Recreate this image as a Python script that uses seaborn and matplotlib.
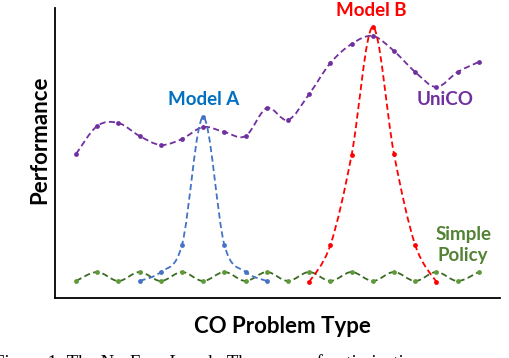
import numpy as np
import pandas as pd
import matplotlib
matplotlib.use("Agg")
import matplotlib.pyplot as plt
from matplotlib.path import Path
from matplotlib.patches import PathPatch
import seaborn as sns

# ---- data (problem-type index vs. performance) ----
problem_idx = list(range(20))
unico_perf = [144, 172, 175, 162, 153, 159, 171, 166, 162, 190,
              178, 204, 235, 254, 262, 247, 226, 211, 226, 236]
simple_perf = [17, 26, 17, 26, 17, 26, 17, 26, 17, 26,
               17, 26, 17, 26, 17, 26, 17, 26, 17, 26]
model_a_idx = [3, 4, 5, 6, 7, 8, 9]
model_a_perf = [17, 26, 53, 181, 53, 26, 17]
model_b_idx = [11, 12, 13, 14, 15, 16, 17]
model_b_perf = [16, 53, 143, 271, 144, 53, 16]

sns.set_theme(style="white")
plt.rcParams['font.family'] = ['Lato', 'DejaVu Sans']

fig = plt.figure(figsize=(5.10, 3.58), dpi=100)
ax = fig.add_axes([55/510, 60/358, 445/510, 290/358])
ax.set_xlim(-0.99, 20.0)
ax.set_ylim(0, 290)


def smooth_path(xs, ys):
    """Excel-style smoothed line as cubic Bezier segments through the points."""
    pts = np.column_stack([xs, ys]).astype(float)
    n = len(pts)
    verts = [pts[0]]
    codes = [Path.MOVETO]
    for i in range(n - 1):
        p0 = pts[i - 1] if i > 0 else pts[i]
        p1 = pts[i]
        p2 = pts[i + 1]
        p3 = pts[i + 2] if i + 2 < n else pts[i + 1]
        c1 = p1 + (p2 - p0) / 6.0
        c2 = p2 - (p3 - p1) / 6.0
        verts += [c1, c2, p2]
        codes += [Path.CURVE4] * 3
    return Path(np.array(verts), codes)


series = [
    (problem_idx, unico_perf, "#7030A0", "#7030A0", 2),
    (problem_idx, simple_perf, "#3D6B24", "#5E9A3A", 3),
    (model_a_idx, model_a_perf, "#4472C4", "#4472C4", 4),
    (model_b_idx, model_b_perf, "#FF0000", "#FF0000", 5),
]

for xs, ys, lc, mc, z in series:
    patch = PathPatch(smooth_path(xs, ys), facecolor="none", edgecolor=lc,
                      linewidth=1.3, linestyle=(0, (3.4, 1.9)), zorder=z)
    ax.add_patch(patch)
    df = pd.DataFrame({"x": xs, "y": ys})
    sns.scatterplot(data=df, x="x", y="y", ax=ax, color=mc, s=12,
                    linewidth=0, zorder=z + 0.5, legend=False)

# axes styling
ax.set_xticks([])
ax.set_yticks([])
for side in ["top", "right"]:
    ax.spines[side].set_visible(False)
for side in ["left", "bottom"]:
    ax.spines[side].set_color("black")
    ax.spines[side].set_linewidth(1.3)

ax.set_xlabel("CO Problem Type", fontsize=16, fontweight="bold", color="black")
ax.xaxis.set_label_coords(0.510, -0.062)
ax.set_ylabel("Performance", fontsize=16, fontweight="bold", color="black",
              va="center")
ax.yaxis.set_label_coords(-0.034, 0.545)

# series annotations
ax.text(0.335, 0.683, "Model A", transform=ax.transAxes, ha="center",
        va="center", fontsize=13.5, fontweight="bold", color="#0070C0")
ax.text(0.710, 0.993, "Model B", transform=ax.transAxes, ha="center",
        va="center", fontsize=13.5, fontweight="bold", color="#FF0000",
        clip_on=False)
ax.text(0.876, 0.683, "UniCO", transform=ax.transAxes, ha="center",
        va="center", fontsize=13.5, fontweight="bold", color="#7030A0")
ax.text(0.917, 0.183, "Simple\nPolicy", transform=ax.transAxes, ha="center",
        va="center", fontsize=13.5, fontweight="bold", color="#548235",
        linespacing=1.3)

# partially visible caption at the bottom edge (cut off in the reference too)
fig.text(-0.012, -0.028, "Figure 1: The No-Free-Lunch. The curve of optimization",
         ha="left", va="baseline", fontsize=13.5,
         family=["Liberation Serif", "DejaVu Serif"], color="black")

fig.savefig("out.png", dpi=100)
